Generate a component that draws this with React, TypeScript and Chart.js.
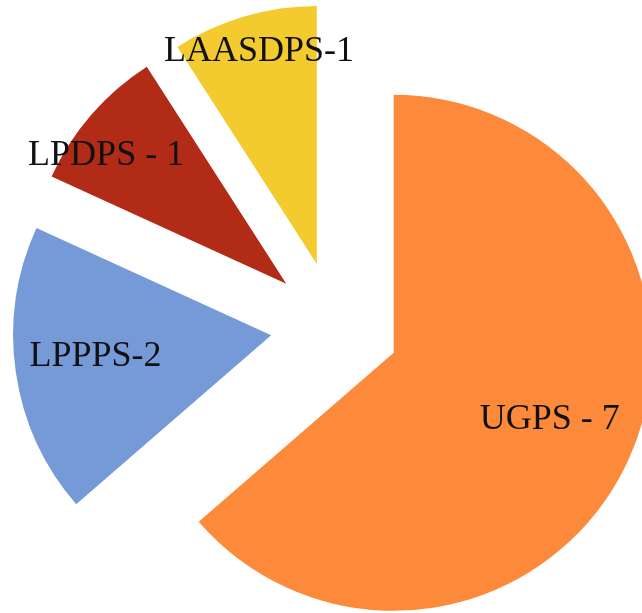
import React, { useEffect, useRef } from "react";
import { Chart, registerables } from "chart.js";

Chart.register(...registerables);

// ---- data ----
const categories = ["UGPS - 7", "LPPPS-2", "LPDPS - 1", "LAASDPS-1"];
const values = [7, 2, 1, 1];
const colors = ["#FD8A3A", "#7699D8", "#B12B17", "#F4CB2F"];

// label placement inside each slice: fraction of slice angle, fraction of radius
const labelAngleFrac = [0.49, 0.53, 0.35, 0.54];
const labelRadiusFrac = [0.654, 0.685, 0.863, 0.862];

const EXPLODE = 64.5;
const RADIUS = 258;
const FONT_SIZE = 36;

const explodePlugin = {
  id: "explodeSlices",
  afterDatasetUpdate(chart: any, args: any) {
    const meta = args.meta;
    meta.data.forEach((arc: any) => {
      const mid = (arc.startAngle + arc.endAngle) / 2;
      arc.x += Math.cos(mid) * EXPLODE;
      arc.y += Math.sin(mid) * EXPLODE;
    });
  },
};

const labelPlugin = {
  id: "sliceLabels",
  afterDatasetsDraw(chart: any) {
    const meta = chart.getDatasetMeta(0);
    const ctx = chart.ctx;
    ctx.save();
    ctx.font = `${FONT_SIZE}px 'Liberation Serif'`;
    ctx.fillStyle = "#111";
    ctx.textAlign = "center";
    ctx.textBaseline = "alphabetic";
    meta.data.forEach((arc: any, i: number) => {
      const a = arc.startAngle + (arc.endAngle - arc.startAngle) * labelAngleFrac[i];
      const r = arc.outerRadius * labelRadiusFrac[i];
      const x = arc.x + Math.cos(a) * r;
      const y = arc.y + Math.sin(a) * r + FONT_SIZE * 0.66 / 2;
      ctx.fillText(chart.data.labels[i], x, y);
    });
    ctx.restore();
  },
};

export default function App() {
  const ref = useRef<HTMLCanvasElement | null>(null);

  useEffect(() => {
    if (!ref.current) return;
    const chart = new Chart(ref.current, {
      type: "pie",
      data: {
        labels: categories,
        datasets: [
          {
            data: values,
            backgroundColor: colors,
            borderWidth: 0,
            clip: false as any,
          },
        ],
      },
      options: {
        responsive: false,
        animation: false,
        radius: RADIUS,
        layout: { padding: { left: 28, right: 0, top: 39, bottom: 0 } },
        plugins: {
          legend: { display: false },
          tooltip: { enabled: false },
        },
        events: [],
      } as any,
      plugins: [explodePlugin, labelPlugin],
    });
    return () => chart.destroy();
  }, []);

  return (
    <div style={{ position: "absolute", left: 0, top: 0, width: 642, height: 613, background: "#fff" }}>
      <canvas ref={ref} width={642} height={613} />
    </div>
  );
}
